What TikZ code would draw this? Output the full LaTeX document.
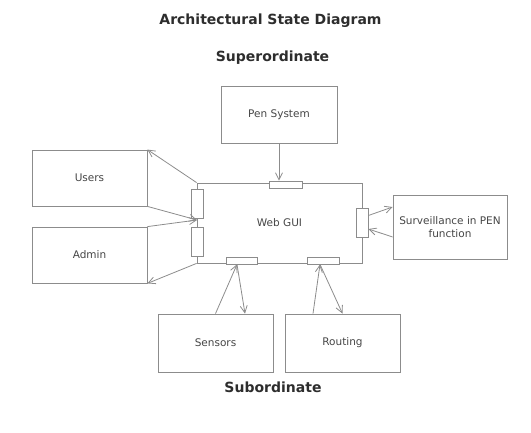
\documentclass[tikz,border=0pt]{standalone}
\usepackage{fontspec}
\setmainfont{DejaVu Sans}
\usetikzlibrary{arrows.meta}
\definecolor{linegray}{RGB}{140,140,140}
\definecolor{textgray}{RGB}{70,70,70}
\definecolor{titlegray}{RGB}{45,45,45}
\tikzset{
	block/.style={rectangle,draw=linegray,fill=white,inner sep=0pt,text=textgray,align=center,font=\fontsize{10.5}{13}\selectfont},
	port/.style={rectangle,draw=linegray,fill=white,inner sep=0pt},
	heading/.style={text=titlegray,font=\bfseries\fontsize{14}{16}\selectfont},
}
\begin{document}
\begin{tikzpicture}[x=1pt,y=-1pt,line width=0.8pt,>={Straight Barb[length=7pt,width=7pt]}]
			\useasboundingbox (0,0) rectangle (531,433);

			\node at (270.5, 21) [heading] (title) {Architectural State Diagram};
			\node at (272.5, 58) [heading] (super) {Superordinate};
			\node at (  273,387) [heading] (sub)   {Subordinate};

			\node at (  279,114.5) [block,minimum width=116pt,minimum height=57pt] (pen_system)   {Pen System};
			\node at (279.5,  223) [block,minimum width=165pt,minimum height=80pt] (web_gui)      {Web GUI};
			\node at ( 89.5,  178) [block,minimum width=115pt,minimum height=56pt] (users)        {Users};
			\node at ( 89.5,  255) [block,minimum width=115pt,minimum height=56pt] (admin)        {Admin};
			\node at (  450,  227) [block,minimum width=114pt,minimum height=64pt] (surveillance) {Surveillance in PEN\\function};
			\node at (215.5,  343) [block,minimum width=115pt,minimum height=58pt] (sensors)      {Sensors};
			\node at (342.5,  343) [block,minimum width=115pt,minimum height=58pt] (routing)      {Routing};

			% ports on the Web GUI border
			\node at (285.5,184.5) [port,minimum width=33pt,minimum height=7pt]  (port_top)     {};
			\node at (  197,203.5) [port,minimum width=12pt,minimum height=29pt] (port_users)   {};
			\node at (  197,241.5) [port,minimum width=12pt,minimum height=29pt] (port_admin)   {};
			\node at (  362,222.5) [port,minimum width=12pt,minimum height=29pt] (port_right)   {};
			\node at (241.5,260.5) [port,minimum width=31pt,minimum height=7pt]  (port_sensors) {};
			\node at (  323,260.5) [port,minimum width=32pt,minimum height=7pt]  (port_routing) {};
			\coordinate (left_join) at (197,220);

			\draw[->,draw=linegray] (pen_system.south)                  -- (pen_system.south |- port_top.north);
			\draw[->,draw=linegray] (web_gui.north west)                -- (users.north east);
			\draw[->,draw=linegray] (users.south east)                  -- (left_join);
			\draw[->,draw=linegray] (admin.north east)                  -- (left_join);
			\draw[->,draw=linegray] (web_gui.south west)                -- (admin.south east);
			\draw[->,draw=linegray] ([yshift=7pt]port_right.east)       -- ([yshift=20pt]surveillance.west);
			\draw[->,draw=linegray] ([yshift=-10pt]surveillance.west)   -- ([yshift=-6.5pt]port_right.east);
			\draw[->,draw=linegray] (sensors.north)                     -- ([xshift=-4.5pt]port_sensors.south);
			\draw[->,draw=linegray] ([xshift=-4.5pt]port_sensors.south) -- ([xshift=29.5pt]sensors.north);
			\draw[->,draw=linegray] ([xshift=-29.5pt]routing.north)     -- ([xshift=-3pt]port_routing.south);
			\draw[->,draw=linegray] ([xshift=-3pt]port_routing.south)   -- (routing.north);
\end{tikzpicture}
\end{document}
